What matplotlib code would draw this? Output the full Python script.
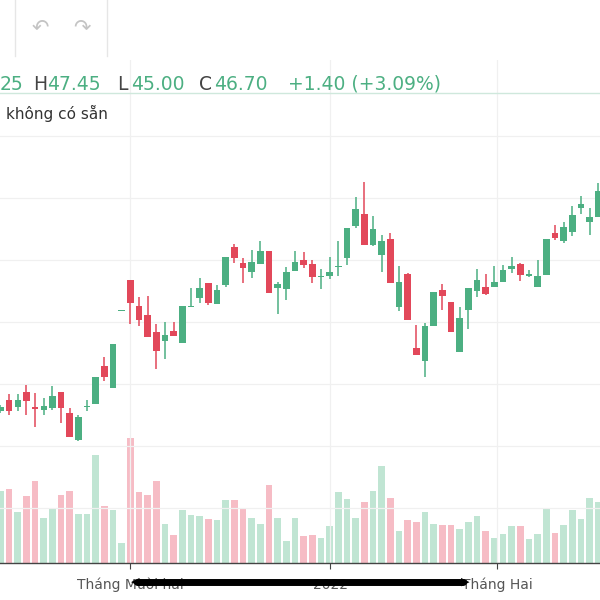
import matplotlib
matplotlib.use("Agg")
import matplotlib.pyplot as plt
import numpy as np

opens  = [18.9,20.0,19.3,20.8,19.3,19.0,19.2,20.8,18.7,16.0,19.3,19.6,23.4,21.2,28.9,32.0,29.4,28.5,26.8,25.9,26.9,25.7,29.3,30.2,31.7,29.6,31.5,35.3,33.7,32.8,33.6,34.9,31.2,31.1,32.9,34.0,33.6,32.3,32.4,33.3,34.2,37.4,38.6,35.5,34.5,36.1,29.3,32.6,25.2,23.9,27.4,31.0,29.8,24.8,29.0,30.9,31.3,31.3,31.8,33.1,33.6,32.4,31.3,32.5,36.7,35.9,36.8,39.2,37.8,38.3]
highs  = [19.5,20.6,20.6,21.5,20.7,20.2,21.4,20.8,19.2,18.5,20.0,22.3,24.3,25.6,29.0,32.0,30.3,30.4,27.6,27.8,27.8,29.4,31.2,32.2,31.7,31.5,34.3,35.6,34.2,35.0,35.9,34.9,31.8,33.3,34.9,34.8,34.0,33.1,34.3,35.9,37.2,40.3,41.8,38.4,36.5,36.7,33.4,32.7,27.5,27.7,30.8,31.6,29.8,29.3,31.2,33.1,32.6,33.4,33.5,34.3,33.7,33.0,34.0,36.1,37.5,37.8,39.4,40.4,39.2,41.7]
lows   = [18.7,18.5,18.9,18.5,17.3,18.5,19.0,17.7,16.3,15.9,18.9,19.6,21.9,21.2,28.9,27.6,27.4,26.3,23.1,24.1,26.4,25.7,29.3,29.7,29.5,29.6,31.3,33.7,31.7,32.2,33.6,30.7,28.6,30.0,32.9,33.2,31.7,31.1,32.1,32.4,33.5,37.2,35.5,35.4,32.8,31.7,28.9,28.0,24.5,22.3,27.4,29.0,26.8,24.8,27.1,30.3,30.5,31.3,31.8,32.7,31.9,32.3,31.3,32.5,36.0,35.7,36.4,38.6,36.5,38.3]
closes = [19.3,18.9,20.0,19.9,19.1,19.4,20.4,19.2,16.3,18.3,19.4,22.3,22.3,25.6,29.0,29.7,28.0,26.3,24.9,26.5,26.4,29.4,29.4,31.2,29.7,31.0,34.3,34.2,33.2,33.8,34.9,30.7,31.6,32.8,33.8,33.5,32.3,32.4,32.8,33.4,37.2,39.1,35.5,37.1,35.9,31.7,31.8,28.0,24.5,27.4,30.8,30.4,26.8,28.2,31.2,32.0,30.6,31.8,33.0,33.4,32.5,32.6,32.4,36.1,36.2,37.3,38.5,39.6,38.3,40.9]
volumes = [218,223,153,201,248,136,161,205,218,148,148,326,170,158,60,376,213,205,248,118,83,158,143,140,131,128,188,188,161,136,118,236,136,66,136,80,83,75,110,215,193,136,183,218,293,196,96,128,123,153,118,113,113,101,123,140,96,75,88,110,110,71,88,165,91,115,158,131,196,183]
tick_pos = [15.0, 38.06, 57.3]
tick_labels = ["Tháng Mười hai", "2022", "Tháng Hai"]
grid_prices = [46.4, 40.2, 34.0, 27.8, 21.6, 15.4, 9.2]

GREEN = "#4caf82"; RED = "#e2485a"
VGREEN = "#c0e5d3"; VRED = "#f6bcc5"

fig = plt.figure(figsize=(6, 6), dpi=100)
fig.patch.set_facecolor("white")

def fy(y):
    return 1 - y / 600

bottom, top = 563, 60
ax = fig.add_axes([0, fy(bottom), 1, (bottom - top) / 600])
axv = ax.twinx()
ax.set_zorder(axv.get_zorder() + 1)
ax.patch.set_visible(False)

x = np.arange(len(opens))
o = np.array(opens); c = np.array(closes); h = np.array(highs); l = np.array(lows)
up = c >= o
vcol = [VGREEN if u else VRED for u in up]
axv.bar(x, volumes, width=0.78, color=vcol, zorder=2)
axv.set_ylim(0, 1513)
axv.axis("off")

cols = [GREEN if u else RED for u in up]
ax.vlines(x, l, h, colors=cols, linewidth=1.1, zorder=3)
ax.bar(x, np.maximum(np.abs(c - o), 0.15), bottom=np.minimum(o, c), width=0.75, color=cols, zorder=4)
ax.set_xlim(-0.05, 69.2)
ax.set_ylim(3.7, 54.0)
ax.set_yticks(grid_prices)
ax.set_xticks(tick_pos)
ax.set_xticklabels([])
ax.grid(True, color="#f0f0f0", linewidth=0.9, zorder=0)
ax.set_axisbelow(True)
ax.tick_params(axis="y", length=0, labelleft=False)
ax.tick_params(axis="x", length=4, color="#444444", direction="out")
for s in ["top", "left", "right"]:
    ax.spines[s].set_visible(False)
ax.spines["bottom"].set_color("#444444")
ax.spines["bottom"].set_linewidth(1.0)

for p, lab in zip(tick_pos, tick_labels):
    ax.annotate(lab, xy=(p, 0), xycoords=("data", "axes fraction"),
                xytext=(0, -16), textcoords="offset points", ha="center", va="center",
                fontsize=10, color="#555555")

fig.add_artist(plt.Line2D([137/600, 463/600], [fy(582), fy(582)], color="black",
                          linewidth=5, solid_capstyle="round"))
fig.text(135/600, fy(582), "◀", fontsize=8, ha="center", va="center", color="black")
fig.text(465/600, fy(582), "▶", fontsize=8, ha="center", va="center", color="black")

for xx in (15, 107):
    fig.add_artist(plt.Line2D([xx/600, xx/600], [fy(0), fy(56)], color="#e6e6e6", linewidth=1))
fig.text(40/600, fy(27), "↶", fontsize=15, ha="center", va="center", color="#c4c4c4")
fig.text(82/600, fy(27), "↷", fontsize=15, ha="center", va="center", color="#c4c4c4")

fig.add_artist(plt.Line2D([0, 1], [fy(93), fy(93)], color="#cfe8dc", linewidth=1))
hy = fy(84)
parts = [(0, "25", GREEN), (33, "H", "#444444"), (47, "47.45", GREEN), (117, "L", "#444444"),
         (131, "45.00", GREEN), (199, "C", "#444444"), (214, "46.70", GREEN),
         (288, "+1.40 (+3.09%)", GREEN)]
for px, t, col in parts:
    fig.text(px/600, hy, t, fontsize=13.5, ha="left", va="center", color=col)
fig.text(6/600, fy(113), "không có sẵn", fontsize=11, ha="left", va="center", color="#333333")

fig.savefig("out.png", dpi=100)
